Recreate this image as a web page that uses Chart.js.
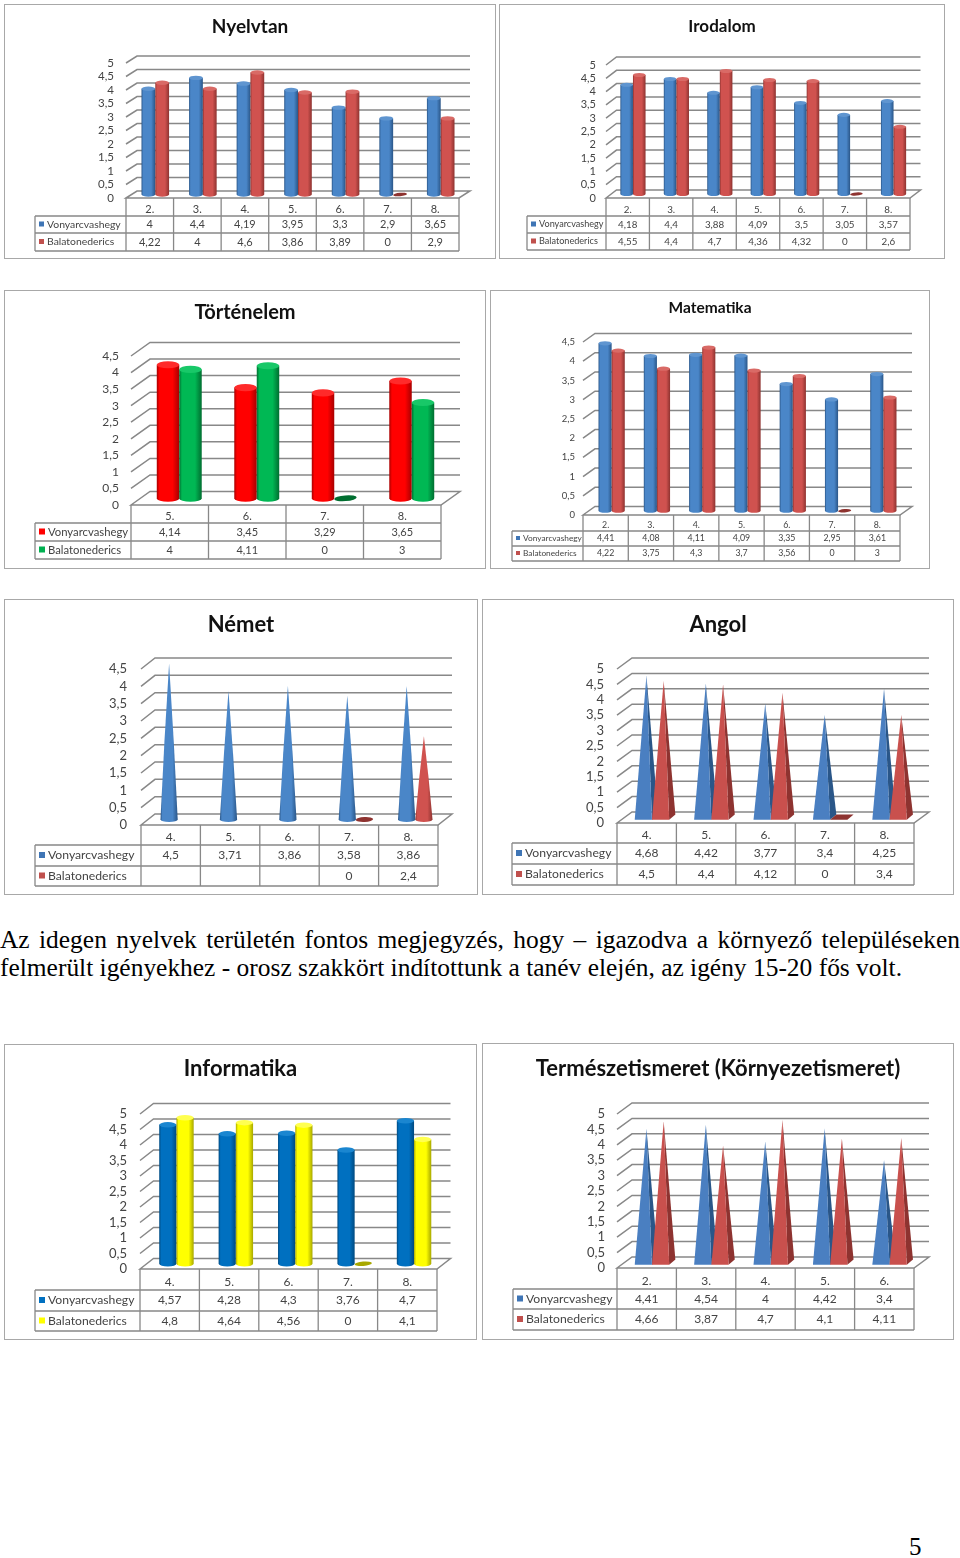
<!DOCTYPE html>
<html>
<head>
<meta charset="utf-8">
<title>Nyelvek</title>
<script src="https://cdn.jsdelivr.net/npm/chart.js@4"></script>
<style>
  html, body { margin: 0; padding: 0; background: #fff; }
  #page { position: relative; width: 960px; height: 1558px; overflow: hidden; }
  canvas { position: absolute; outline: 1.5px solid #a8a8a8; outline-offset: -1px; filter: blur(0.35px); }
  .txt { position: absolute; left: 0; width: 960px; font-family: "Liberation Serif", serif; font-size: 25.45px; line-height: 28px; color: #000; white-space: nowrap; }
  #line1 { white-space: normal; text-align: justify; text-align-last: justify; }
  #pagenum { position: absolute; left: 909px; top: 1533px; font-family: "Liberation Serif", serif; font-size: 25px; }
</style>
</head>
<body>
<div id="page">
  <div class="txt" id="line1" style="top:926px">Az idegen nyelvek területén fontos megjegyzés, hogy – igazodva a környező településeken</div>
  <div class="txt" style="top:954px">felmerült igényekhez - orosz szakkört indítottunk a tanév elején, az igény 15-20 fős volt.</div>
  <div id="pagenum">5</div>
</div>

<script>
var seriesNames = ['Vonyarcvashegy', 'Balatonederics'];

var grades2to8 = ['2.', '3.', '4.', '5.', '6.', '7.', '8.'];
var grades5to8 = ['5.', '6.', '7.', '8.'];
var grades4to8 = ['4.', '5.', '6.', '7.', '8.'];
var grades2to6 = ['2.', '3.', '4.', '5.', '6.'];

var nyelvtanV = [4, 4.4, 4.19, 3.95, 3.3, 2.9, 3.65];
var nyelvtanB = [4.22, 4, 4.6, 3.86, 3.89, 0, 2.9];
var irodalomV = [4.18, 4.4, 3.88, 4.09, 3.5, 3.05, 3.57];
var irodalomB = [4.55, 4.4, 4.7, 4.36, 4.32, 0, 2.6];
var tortenelemV = [4.14, 3.45, 3.29, 3.65];
var tortenelemB = [4, 4.11, 0, 3];
var matematikaV = [4.41, 4.08, 4.11, 4.09, 3.35, 2.95, 3.61];
var matematikaB = [4.22, 3.75, 4.3, 3.7, 3.56, 0, 3];
var nemetV = [4.5, 3.71, 3.86, 3.58, 3.86];
var nemetB = [null, null, null, 0, 2.4];
var angolV = [4.68, 4.42, 3.77, 3.4, 4.25];
var angolB = [4.5, 4.4, 4.12, 0, 3.4];
var informatikaV = [4.57, 4.28, 4.3, 3.76, 4.7];
var informatikaB = [4.8, 4.64, 4.56, 0, 4.1];
var termeszetV = [4.41, 4.54, 4, 4.42, 3.4];
var termeszetB = [4.66, 3.87, 4.7, 4.1, 4.11];

// colours: [swatch, edge dark, middle, top cap]
var BLUE = ['#3f75b5', '#2a5688', '#4a86c8', '#5f95d0'];
var RED = ['#c0504d', '#8e3330', '#d0524f', '#d96a66'];
var REDHOT = ['#ff0000', '#a80000', '#ff0000', '#ff2a2a'];
var GREEN = ['#00b050', '#006e30', '#00b854', '#18c868'];
var DEEPBLUE = ['#0070c0', '#004a80', '#0070c0', '#1a86d0'];
var YELLOW = ['#ffff00', '#a8a800', '#ffff00', '#ffff50'];

// page coordinates of every panel
var panels = [
  { title: 'Nyelvtan', cats: grades2to8, v: nyelvtanV, b: nyelvtanB, max: 5, shape: 'cyl', c: [BLUE, RED],
    box: [4, 4, 496, 259], plot: [126, 63, 459, 198], depth: [11, -7], rows: [216, 233, 251], legend: 35,
    titleY: 27, titleSize: 19, tick: 11.5, gap: 12, cell: 11, leg: 10.4 },
  { title: 'Irodalom', cats: grades2to8, v: irodalomV, b: irodalomB, max: 5, shape: 'cyl', c: [BLUE, RED],
    box: [499, 4, 945, 259], plot: [606, 65, 910, 198], depth: [10.5, -8], rows: [216, 233, 250], legend: 527,
    titleY: 27, titleSize: 17, tick: 11, gap: 10, cell: 9.8, leg: 9.1 },
  { title: 'Történelem', cats: grades5to8, v: tortenelemV, b: tortenelemB, max: 4.5, shape: 'cyl', c: [REDHOT, GREEN],
    box: [4, 290, 486, 569], plot: [131, 356, 441, 505], depth: [19, -13.5], rows: [523, 541, 559], legend: 35,
    titleY: 313, titleSize: 20, tick: 12, gap: 12, cell: 11, leg: 11.3 },
  { title: 'Matematika', cats: grades2to8, v: matematikaV, b: matematikaB, max: 4.5, shape: 'cyl', c: [BLUE, RED],
    box: [490, 290, 930, 569], plot: [583, 342, 900, 515], depth: [12, -8.5], rows: [531, 546, 561], legend: 512,
    titleY: 308, titleSize: 15.5, tick: 9.5, gap: 8, cell: 8.8, leg: 8.3 },
  { title: 'Német', cats: grades4to8, v: nemetV, b: nemetB, max: 4.5, shape: 'cone', c: [BLUE, RED],
    box: [4, 599, 478, 895], plot: [141, 669, 438, 825], depth: [14, -11], rows: [845, 866, 886], legend: 35,
    titleY: 625, titleSize: 22, tick: 13, gap: 14, cell: 12, leg: 12.2 },
  { title: 'Angol', cats: grades4to8, v: angolV, b: angolB, max: 5, shape: 'pyr', c: [BLUE, RED],
    box: [482, 599, 954, 895], plot: [617, 669, 914, 823], depth: [15, -11], rows: [843, 864, 885], legend: 512,
    titleY: 625, titleSize: 22, tick: 13, gap: 13, cell: 12, leg: 12.2 },
  { title: 'Informatika', cats: grades4to8, v: informatikaV, b: informatikaB, max: 5, shape: 'cyl', c: [DEEPBLUE, YELLOW],
    box: [4, 1044, 477, 1340], plot: [140, 1114, 437, 1269], depth: [13.5, -10.5], rows: [1290, 1311, 1331], legend: 35,
    titleY: 1069, titleSize: 22, tick: 13, gap: 13, cell: 12, leg: 12.2 },
  { title: 'Természetismeret (Környezetismeret)', cats: grades2to6, v: termeszetV, b: termeszetB, max: 5, shape: 'pyr', c: [BLUE, RED],
    box: [482, 1043, 954, 1340], plot: [617, 1114, 914, 1268], depth: [15, -11], rows: [1289, 1309, 1330], legend: 513,
    titleY: 1069, titleSize: 22, tick: 13, gap: 12, cell: 12, leg: 12.2 }
];

var LINE = '#888888';
var FONT = 'Lato, sans-serif';

function comma(val) {
  return String(val).replace('.', ',');
}

function sideGradient(ctx, x0, x1, col) {
  var g = ctx.createLinearGradient(x0, 0, x1, 0);
  g.addColorStop(0, col[1]);
  g.addColorStop(0.12, col[2]);
  g.addColorStop(0.7, col[2]);
  g.addColorStop(1, col[1]);
  return g;
}

function drawCylinder(ctx, el, col) {
  var l = el.x - el.width / 2, r = el.x + el.width / 2;
  var ry = el.width * 0.16;
  if (el.base - el.y < 1) {
    ctx.fillStyle = col[1];
    ctx.beginPath();
    ctx.ellipse(el.x, el.base, el.width / 2, ry * 0.8, -0.08, 0, Math.PI * 2);
    ctx.fill();
    return;
  }
  ctx.fillStyle = sideGradient(ctx, l, r, col);
  ctx.beginPath();
  ctx.moveTo(l, el.y + ry);
  ctx.lineTo(l, el.base);
  ctx.ellipse(el.x, el.base, el.width / 2, ry, 0, Math.PI, 0, true);
  ctx.lineTo(r, el.y + ry);
  ctx.closePath();
  ctx.fill();
  ctx.fillStyle = col[3];
  ctx.beginPath();
  ctx.ellipse(el.x, el.y + ry, el.width / 2, ry, 0, 0, Math.PI * 2);
  ctx.fill();
}

function drawCone(ctx, el, col) {
  var l = el.x - el.width / 2, r = el.x + el.width / 2;
  var ry = el.width * 0.14;
  var midY = (el.y + el.base) / 2;
  if (el.base - el.y < 1) {
    ctx.fillStyle = col[1];
    ctx.beginPath();
    ctx.ellipse(el.x, el.base, el.width / 2, ry, -0.05, 0, Math.PI * 2);
    ctx.fill();
    return;
  }
  ctx.fillStyle = sideGradient(ctx, l, r, col);
  ctx.beginPath();
  ctx.moveTo(el.x, el.y);
  ctx.quadraticCurveTo(el.x - el.width * 0.29, midY, l, el.base);
  ctx.ellipse(el.x, el.base, el.width / 2, ry, 0, Math.PI, 0, true);
  ctx.quadraticCurveTo(el.x + el.width * 0.29, midY, el.x, el.y);
  ctx.closePath();
  ctx.fill();
}

function drawPyramid(ctx, el, col) {
  var l = el.x - el.width / 2, r = el.x + el.width / 2;
  var sx = el.width * 0.36, sy = el.width * 0.3;
  if (el.base - el.y < 1) {
    ctx.fillStyle = col[1];
    ctx.beginPath();
    ctx.moveTo(l, el.base);
    ctx.lineTo(r, el.base);
    ctx.lineTo(r + sx, el.base - sy);
    ctx.lineTo(l + sx, el.base - sy);
    ctx.closePath();
    ctx.fill();
    return;
  }
  // side face first
  ctx.fillStyle = col[1];
  ctx.beginPath();
  ctx.moveTo(r, el.base);
  ctx.lineTo(r + sx, el.base - sy);
  ctx.lineTo(el.x + sx / 2, el.y);
  ctx.closePath();
  ctx.fill();
  ctx.fillStyle = col[0] == BLUE[0] ? '#4a7fc1' : '#c9504d';
  ctx.beginPath();
  ctx.moveTo(l, el.base);
  ctx.lineTo(r, el.base);
  ctx.lineTo(el.x + sx / 2, el.y);
  ctx.closePath();
  ctx.fill();
}

// walls behind the bars, with the grid taken from the value axis
var wallsPlugin = {
  id: 'walls',
  beforeDatasetsDraw: function(chart) {
    var p = chart.options.plugins.walls, ctx = chart.ctx;
    var a = chart.chartArea, yS = chart.scales.y;
    var dx = p.depth[0], dy = p.depth[1];
    ctx.save();
    ctx.strokeStyle = LINE;
    ctx.lineWidth = 1.5;
    yS.ticks.forEach(function(t) {
      var y = yS.getPixelForValue(t.value);
      ctx.beginPath();
      if (t.value === 0) {
        ctx.moveTo(a.left, y);
        ctx.lineTo(a.left + dx, y + dy);
        ctx.lineTo(a.right + dx, y + dy);
        ctx.lineTo(a.right, y);
        ctx.closePath();
      } else {
        ctx.moveTo(a.left, y);
        ctx.lineTo(a.left + dx, y + dy);
        ctx.lineTo(a.right + dx, y + dy);
      }
      ctx.stroke();
    });
    ctx.restore();
  }
};

// data table under the plot, the x axis labels are its header row
var tablePlugin = {
  id: 'dataTable',
  afterDraw: function(chart) {
    var p = chart.options.plugins.dataTable, ctx = chart.ctx;
    var a = chart.chartArea, xS = chart.scales.x;
    var rows = p.rows, n = chart.data.labels.length;
    var step = (a.right - a.left) / n;
    ctx.save();
    ctx.strokeStyle = LINE;
    ctx.lineWidth = 1.3;
    ctx.beginPath();
    for (var i = 0; i <= n; i++) {
      ctx.moveTo(a.left + step * i, a.bottom);
      ctx.lineTo(a.left + step * i, rows[2]);
    }
    ctx.moveTo(p.legend, rows[0]);
    ctx.lineTo(p.legend, rows[2]);
    rows.forEach(function(r) {
      ctx.moveTo(p.legend, r);
      ctx.lineTo(a.right, r);
    });
    ctx.stroke();

    ctx.textBaseline = 'middle';
    chart.data.datasets.forEach(function(ds, d) {
      var mid = (rows[d] + rows[d + 1]) / 2;
      var sw = Math.round(p.leg * 0.5);
      ctx.fillStyle = ds.backgroundColor;
      ctx.fillRect(p.legend + 4, mid - sw / 2 - 0.5, sw, sw);
      ctx.fillStyle = '#444';
      ctx.font = p.leg + 'px ' + FONT;
      ctx.textAlign = 'left';
      ctx.fillText(ds.label, p.legend + 5 + sw + 2, mid);
      ctx.font = p.cell + 'px ' + FONT;
      ctx.textAlign = 'center';
      ds.data.forEach(function(val, k) {
        if (val === null) return;
        ctx.fillText(comma(val), xS.getPixelForTick(k), mid);
      });
    });
    ctx.restore();
  }
};

// cylinders, cones and pyramids sit on the library's bar elements,
// first series first so the second one overlaps it
var shapesPlugin = {
  id: 'shapes',
  beforeDatasetsDraw: function(chart) {
    var p = chart.options.plugins.shapes, ctx = chart.ctx;
    ctx.save();
    ctx.translate(p.shape == 'pyr' ? p.depth[0] * 0.35 : p.depth[0] / 2, p.shape == 'pyr' ? p.depth[1] * 0.3 : p.depth[1] / 2);
    chart.data.datasets.forEach(function(ds, i) {
      var col = p.c[i];
      chart.getDatasetMeta(i).data.forEach(function(el, k) {
        if (ds.data[k] === null) return;
        if (p.shape == 'cone') drawCone(ctx, el, col);
        else if (p.shape == 'pyr') drawPyramid(ctx, el, col);
        else drawCylinder(ctx, el, col);
      });
    });
    ctx.restore();
  },
  beforeDatasetDraw: function() {
    return false;
  }
};

function makeChart(p) {
  var w = p.box[2] - p.box[0], h = p.box[3] - p.box[1];
  var cv = document.createElement('canvas');
  cv.width = w;
  cv.height = h;
  cv.style.left = p.box[0] + 'px';
  cv.style.top = p.box[1] + 'px';
  document.getElementById('page').appendChild(cv);

  var lineH = Math.round(p.titleSize * 1.2);
  var titleTop = p.titleY - p.box[1] - lineH / 2;
  var titleBottom = p.plot[1] - p.box[1] - titleTop - lineH;

  new Chart(cv, {
    type: 'bar',
    data: {
      labels: p.cats,
      datasets: [
        { label: seriesNames[0], data: p.v, backgroundColor: p.c[0][0] },
        { label: seriesNames[1], data: p.b, backgroundColor: p.c[1][0] }
      ]
    },
    plugins: [wallsPlugin, shapesPlugin, tablePlugin],
    options: {
      responsive: false,
      animation: false,
      events: [],
      layout: { padding: { left: 0, top: 0, right: 0, bottom: p.box[3] - p.rows[0] } },
      datasets: { bar: { categoryPercentage: 0.58, barPercentage: 1 } },
      scales: {
        x: {
          grid: { display: false, drawTicks: false },
          border: { display: false },
          ticks: {
            color: '#444',
            font: { family: FONT, size: p.cell },
            padding: Math.max(0, (p.rows[0] - p.plot[3] - p.cell * 1.2) / 2) + 2.5,
            maxRotation: 0
          },
          afterFit: function(scale) { scale.height = p.rows[0] - p.plot[3]; }
        },
        y: {
          min: 0,
          max: p.max,
          grid: { display: false, drawTicks: false },
          border: { display: false },
          ticks: {
            stepSize: 0.5,
            autoSkip: false,
            color: '#444',
            font: { family: FONT, size: p.tick },
            padding: p.gap,
            callback: function(val) { return comma(val); }
          },
          afterFit: function(scale) { scale.width = p.plot[0] - p.box[0]; }
        },
        // empty axis, only keeps the right margin so the title stays centred on the panel
        margin: {
          type: 'linear',
          position: 'right',
          grid: { display: false, drawTicks: false },
          border: { display: false },
          ticks: { display: false },
          afterFit: function(scale) { scale.width = p.box[2] - p.plot[2]; }
        }
      },
      plugins: {
        legend: { display: false },
        tooltip: { enabled: false },
        title: {
          display: true,
          text: p.title,
          color: '#111',
          font: { family: FONT, size: p.titleSize, weight: 'bold', lineHeight: lineH / p.titleSize },
          padding: { top: titleTop, bottom: titleBottom }
        },
        walls: { depth: p.depth },
        shapes: { depth: p.depth, shape: p.shape, c: p.c },
        dataTable: {
          rows: p.rows.map(function(r) { return r - p.box[1]; }),
          legend: p.legend - p.box[0],
          cell: p.cell,
          leg: p.leg
        }
      }
    }
  });
}

panels.forEach(makeChart);
</script>
</body>
</html>
